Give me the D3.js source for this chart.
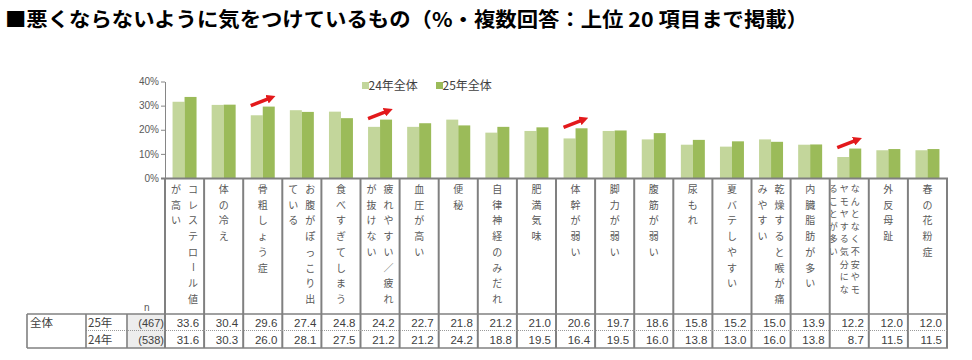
<!DOCTYPE html>
<html><head><meta charset="utf-8">
<script src="https://cdn.jsdelivr.net/npm/d3@7"></script>
<style>
html,body{margin:0;padding:0;background:#fff;}
svg{display:block;}
</style></head>
<body>
<svg id="chart" width="972" height="360"></svg>
<script>
// ---- data ----
const categories = ["コレステロール値が高い","体の冷え","骨粗しょう症","お腹がぽっこり出ている","食べすぎてしまう","疲れやすい／疲れが抜けない","血圧が高い","便秘","自律神経のみだれ","肥満気味","体幹が弱い","脚力が弱い","腹筋が弱い","尿もれ","夏バテしやすい","乾燥すると喉が痛みやすい","内臓脂肪が多い","なんとなく不安やモヤモヤする気分になることが多い","外反母趾","春の花粉症"];
const values25 = [33.6,30.4,29.6,27.4,24.8,24.2,22.7,21.8,21.2,21.0,20.6,19.7,18.6,15.8,15.2,15.0,13.9,12.2,12.0,12.0];
const values24 = [31.6,30.3,26.0,28.1,27.5,21.2,21.2,24.2,18.8,19.5,16.4,19.5,16.0,13.8,13.0,16.0,13.8,8.7,11.5,11.5];
const seriesNames = ["24年全体","25年全体"];
const yearLabels = ["25年","24年"];
const nLabels = ["(467)","(538)"];
const groupLabel = "全体";
const yTicks = [0,10,20,30,40];
const highlighted = [2,5,10,17];
const title = "■悪くならないように気をつけているもの（%・複数回答：上位 20 項目まで掲載）";

// ---- styles ----
const colLight = "#c3d69b", colDark = "#9bbb59", gridCol = "#808080", textCol = "#404040";
const jp = "'Noto Sans CJK JP','Noto Sans',sans-serif";
const num = "'Liberation Sans',Arial,sans-serif";

const svg = d3.select("#chart");
const x0 = 165, x1 = 947;
const yTop = 178, tableTop = 314, tableMid = 330.5, tableBot = 348;

const x = d3.scaleBand().domain(categories).range([x0, x1]).paddingInner(0).paddingOuter(0);
const xs = d3.scaleBand().domain(["24","25"]).range([0, x.bandwidth()]).paddingInner(0).paddingOuter(0.63);
const y = d3.scaleLinear().domain([0,40]).range([yTop, 81.5]);

// title
svg.append("text").attr("x",5).attr("y",27).attr("font-family",jp).attr("font-weight",700)
  .attr("font-size",20).attr("fill","#000").attr("textLength",803).attr("lengthAdjust","spacingAndGlyphs").text(title);

// gray n cell background
svg.append("rect").attr("x",127).attr("y",tableTop).attr("width",x0-127).attr("height",tableBot-tableTop).attr("fill","#ededed");

// bars
const g = svg.append("g");
categories.forEach((c,i)=>{
  g.append("rect").attr("x",x(c)+xs("24")).attr("y",y(values24[i])).attr("width",xs.bandwidth()).attr("height",y(0)-y(values24[i])).attr("fill",colLight);
  g.append("rect").attr("x",x(c)+xs("25")).attr("y",y(values25[i])).attr("width",xs.bandwidth()).attr("height",y(0)-y(values25[i])).attr("fill",colDark);
});

// y axis
const ax = svg.append("g").attr("transform",`translate(${x0},0)`)
  .call(d3.axisLeft(y).tickValues(yTicks).tickFormat(d=>d+"%").tickSize(4).tickSizeOuter(0));
ax.select(".domain").attr("stroke","#868686");
ax.selectAll(".tick line").attr("stroke","#868686");
ax.selectAll(".tick text").attr("font-family",num).attr("font-size",10).attr("fill","#595959").attr("x",-6);

// legend
[0,1].forEach(k=>{
  const lx = k===0 ? 362 : 436;
  svg.append("rect").attr("x",lx).attr("y",82).attr("width",7).attr("height",7).attr("fill",k===0?colLight:colDark);
  svg.append("text").attr("x",lx+6.5).attr("y",89.5).attr("font-family",jp).attr("font-size",12).attr("fill",textCol).text(seriesNames[k]);
});

// arrows
const defs = svg.append("defs");
defs.append("marker").attr("id","ah").attr("viewBox","0 0 10 10").attr("refX",2).attr("refY",5)
  .attr("markerWidth",9).attr("markerHeight",9).attr("markerUnits","userSpaceOnUse").attr("orient","auto")
  .append("path").attr("d","M0,0 L10,5 L0,10 z").attr("fill","#e3191b");
highlighted.forEach(i=>{
  const c = x(categories[i]) + x.bandwidth()/2;
  const yy = y(values25[i]);
  svg.append("line").attr("x1",c-12).attr("y1",yy-1).attr("x2",c+6).attr("y2",yy-8)
    .attr("stroke","#e3191b").attr("stroke-width",3.5).attr("marker-end","url(#ah)");
});

// category labels (vertical text)
const lab = svg.append("g").attr("font-family",jp).attr("fill","#595959");
categories.forEach((c,i)=>{
  const chars = Array.from(c);
  const per = chars.length > 16 ? 9 : 8;
  const cols = [];
  for (let k=0;k<chars.length;k+=per) cols.push(chars.slice(k,k+per));
  const n = cols.length;
  const colGap = n>2 ? 11 : 17;
  const step = n>2 ? 12.6 : 15.7;
  const fs = n>2 ? 9 : 10;
  const cx = x(c) + x.bandwidth()/2 + (n>2 ? -5 : 0);
  cols.forEach((col,j)=>{
    const px = cx + ((n-1)/2 - j)*colGap;
    col.forEach((ch,r)=>{
      const py = 188.5 + r*step;
      const t = lab.append("text").attr("x",px).attr("y",py).attr("text-anchor","middle")
        .attr("font-size",fs).attr("dominant-baseline","central").text(ch);
      if (ch==="ー") t.attr("transform",`rotate(90,${px},${py})`);
    });
  });
});

// grid lines
const grid = svg.append("g").attr("stroke",gridCol).attr("fill","none");
categories.forEach(c=>{
  grid.append("line").attr("x1",x(c)).attr("x2",x(c)).attr("y1",yTop).attr("y2",tableBot).attr("stroke-width",2);
});
grid.append("line").attr("x1",x1).attr("x2",x1).attr("y1",yTop).attr("y2",tableBot).attr("stroke-width",2);
grid.append("line").attr("x1",161).attr("x2",x1+1).attr("y1",yTop+0.5).attr("y2",yTop+0.5).attr("stroke-width",2);
grid.append("line").attr("x1",27).attr("x2",x1+1).attr("y1",tableTop).attr("y2",tableTop).attr("stroke-width",1.6);
grid.append("line").attr("x1",27).attr("x2",x1+1).attr("y1",tableBot).attr("y2",tableBot).attr("stroke-width",1.6);
grid.append("line").attr("x1",86).attr("x2",x1).attr("y1",tableMid).attr("y2",tableMid).attr("stroke","#9a9a9a").attr("stroke-width",1).attr("stroke-dasharray","1,1");
[27,86,127].forEach(xx=>grid.append("line").attr("x1",xx).attr("x2",xx).attr("y1",tableTop).attr("y2",tableBot).attr("stroke-width",1.6));

// table text
const tt = svg.append("g").attr("fill",textCol);
tt.append("text").attr("x",144).attr("y",311).attr("font-family",num).attr("font-size",10).attr("fill","#595959").text("n");
tt.append("text").attr("x",30).attr("y",327).attr("font-family",jp).attr("font-size",11.5).text(groupLabel);
yearLabels.forEach((t,k)=>{
  const by = k===0 ? 327 : 344;
  tt.append("text").attr("x",88).attr("y",by).attr("font-family",jp).attr("font-size",11.5).text(t);
  tt.append("text").attr("x",164).attr("y",by).attr("text-anchor","end").attr("font-family",num).attr("font-size",11).text(nLabels[k]);
});
categories.forEach((c,i)=>{
  tt.append("text").attr("x",x(c)+x.bandwidth()-5).attr("y",327).attr("text-anchor","end").attr("font-family",num).attr("font-size",11.5).text(values25[i].toFixed(1));
  tt.append("text").attr("x",x(c)+x.bandwidth()-5).attr("y",344).attr("text-anchor","end").attr("font-family",num).attr("font-size",11.5).text(values24[i].toFixed(1));
});
</script>
</body></html>
